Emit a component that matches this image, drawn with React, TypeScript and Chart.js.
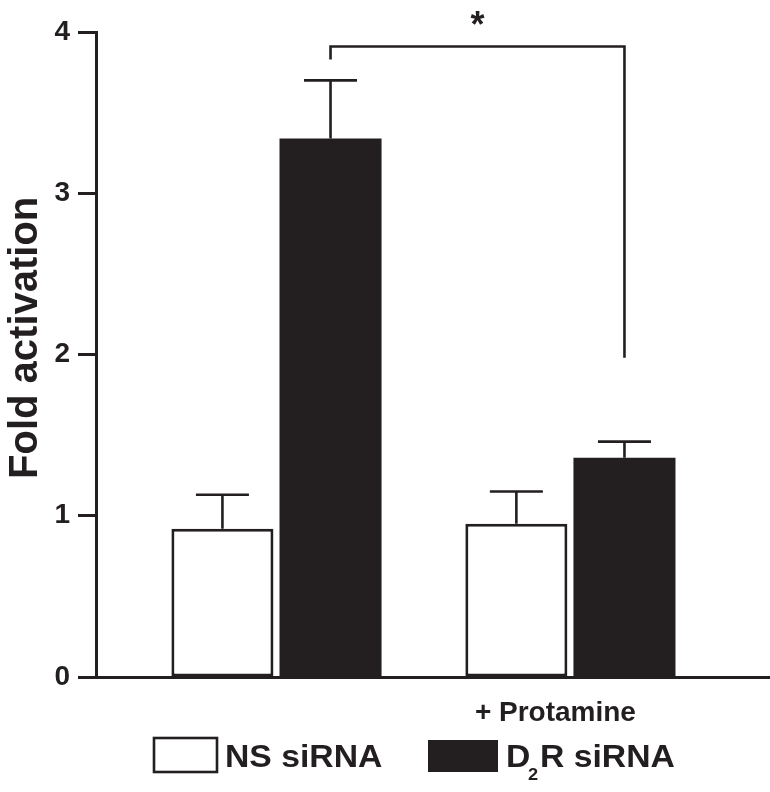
import { useEffect, useRef } from "react";
import { Chart, registerables } from "chart.js";

Chart.register(...registerables);

// ---- data ----
const groupPositions = [1, 2];
const groupLabels = ["", "+ Protamine"];
const seriesNames = ["NS siRNA", "D2R siRNA"];
const nsValues = [0.92, 0.95];
const nsErrorTops = [1.13, 1.15];
const d2rValues = [3.34, 1.36];
const d2rErrorTops = [3.7, 1.46];
const yTicks = [0, 1, 2, 3, 4];
const bracketTop = 3.91;
const bracketLeftEnd = 3.83;
const bracketRightEnd = 1.98;
const bracketLabel = "*";
const yTitle = "Fold activation";

const INK = "#231f20";
const FONT = "'Liberation Sans', Arial, Helvetica, sans-serif";

const errorTops = [nsErrorTops, d2rErrorTops];

const errorBarPlugin = {
  id: "errorBars",
  afterDatasetsDraw(chart: any) {
    const ctx = chart.ctx;
    const yScale = chart.scales.y;
    ctx.save();
    ctx.strokeStyle = INK;
    ctx.lineWidth = 2.6;
    ctx.lineCap = "butt";
    chart.data.datasets.forEach((_: any, di: number) => {
      const meta = chart.getDatasetMeta(di);
      meta.data.forEach((bar: any, j: number) => {
        const x = bar.x;
        const yt = yScale.getPixelForValue(errorTops[di][j]);
        const half = 26.5;
        ctx.beginPath();
        ctx.moveTo(x, bar.y);
        ctx.lineTo(x, yt);
        ctx.moveTo(x - half, yt);
        ctx.lineTo(x + half, yt);
        ctx.stroke();
      });
    });
    ctx.restore();
  },
};

const bracketPlugin = {
  id: "bracket",
  afterDatasetsDraw(chart: any) {
    const ctx = chart.ctx;
    const yScale = chart.scales.y;
    const meta = chart.getDatasetMeta(1);
    const x1 = meta.data[0].x;
    const x2 = meta.data[1].x;
    const yTop = yScale.getPixelForValue(bracketTop);
    const yL = yScale.getPixelForValue(bracketLeftEnd);
    const yR = yScale.getPixelForValue(bracketRightEnd);
    ctx.save();
    ctx.strokeStyle = INK;
    ctx.lineWidth = 2.6;
    ctx.beginPath();
    ctx.moveTo(x1, yL);
    ctx.lineTo(x1, yTop);
    ctx.lineTo(x2, yTop);
    ctx.lineTo(x2, yR);
    ctx.stroke();
    ctx.fillStyle = INK;
    ctx.font = `bold 36px ${FONT}`;
    ctx.textAlign = "center";
    ctx.textBaseline = "alphabetic";
    ctx.fillText(bracketLabel, (x1 + x2) / 2, yTop - 10);
    ctx.restore();
  },
};

const legendPlugin = {
  id: "customLegend",
  afterDraw(chart: any) {
    const ctx = chart.ctx;
    ctx.save();
    // NS siRNA box
    ctx.fillStyle = "#ffffff";
    ctx.fillRect(154, 738, 63, 34);
    ctx.strokeStyle = INK;
    ctx.lineWidth = 2.6;
    ctx.strokeRect(154, 738, 63, 34);
    // D2R siRNA box
    ctx.fillStyle = INK;
    ctx.fillRect(428, 740, 70, 32);

    ctx.fillStyle = INK;
    ctx.textBaseline = "alphabetic";
    ctx.textAlign = "left";
    const drawStretched = (text: string, x: number, y: number, size: number) => {
      ctx.save();
      ctx.translate(x, y);
      ctx.scale(1.07, 1);
      ctx.font = `bold ${size}px ${FONT}`;
      ctx.fillText(text, 0, 0);
      ctx.restore();
    };
    drawStretched(seriesNames[0], 225, 767, 31.5);
    drawStretched(seriesNames[1].slice(0, 1), 506, 767, 31.5);
    drawStretched(seriesNames[1].slice(1, 2), 528, 780, 17);
    drawStretched(seriesNames[1].slice(2), 540, 767, 31.5);
    ctx.restore();
  },
};

export default function App() {
  const canvasRef = useRef<HTMLCanvasElement | null>(null);

  useEffect(() => {
    if (!canvasRef.current) return;
    const chart = new Chart(canvasRef.current, {
      type: "bar",
      data: {
        datasets: [
          {
            label: seriesNames[0],
            data: groupPositions.map((x, i) => ({ x, y: nsValues[i] })),
            backgroundColor: "#ffffff",
            borderColor: INK,
            borderWidth: 3,
            borderSkipped: false,
          },
          {
            label: seriesNames[1],
            data: groupPositions.map((x, i) => ({ x, y: d2rValues[i] })),
            backgroundColor: INK,
            borderWidth: 0,
          },
        ],
      },
      options: {
        responsive: false,
        animation: false,
        events: [],
        categoryPercentage: 0.7355,
        barPercentage: 0.944,
        layout: { padding: { top: 32, right: 0, bottom: 0, left: 0 } },
        plugins: {
          legend: { display: false },
          tooltip: { enabled: false },
          title: { display: false },
        },
        scales: {
          x: {
            type: "linear",
            offset: false,
            min: 0.386,
            max: 2.679,
            afterBuildTicks(scale: any) {
              scale.ticks = groupPositions.map((v) => ({ value: v }));
            },
            afterFit(scale: any) {
              scale.height = 115;
            },
            grid: { display: false, offset: false },
            border: { display: true, color: INK, width: 3 },
            ticks: {
              autoSkip: false,
              maxRotation: 0,
              padding: 11,
              labelOffset: -15,
              color: INK,
              font: { family: FONT, size: 28, weight: "bold" },
              callback: (_v: any, i: number) => groupLabels[i],
            },
          },
          y: {
            type: "linear",
            min: yTicks[0],
            max: yTicks[yTicks.length - 1],
            afterBuildTicks(scale: any) {
              scale.ticks = yTicks.map((v) => ({ value: v }));
            },
            afterFit(scale: any) {
              scale.width = 96;
            },
            grid: {
              drawOnChartArea: false,
              drawTicks: true,
              tickLength: 18,
              tickWidth: 3,
              tickColor: INK,
              color: INK,
            },
            border: { display: true, color: INK, width: 3 },
            ticks: {
              padding: 8,
              color: INK,
              font: { family: FONT, size: 28, weight: "bold" },
              callback: (v: any) => String(v),
            },
            title: {
              display: true,
              text: "   " + yTitle,
              color: INK,
              padding: { top: 2, bottom: 0 },
              font: { family: FONT, size: 40, weight: "bold" },
            },
          },
        },
      } as any,
      plugins: [errorBarPlugin, bracketPlugin, legendPlugin],
    });
    return () => chart.destroy();
  }, []);

  return (
    <div style={{ position: "absolute", left: 0, top: 0, width: 770, height: 792, background: "#fff" }}>
      <canvas ref={canvasRef} width={770} height={792} />
    </div>
  );
}
